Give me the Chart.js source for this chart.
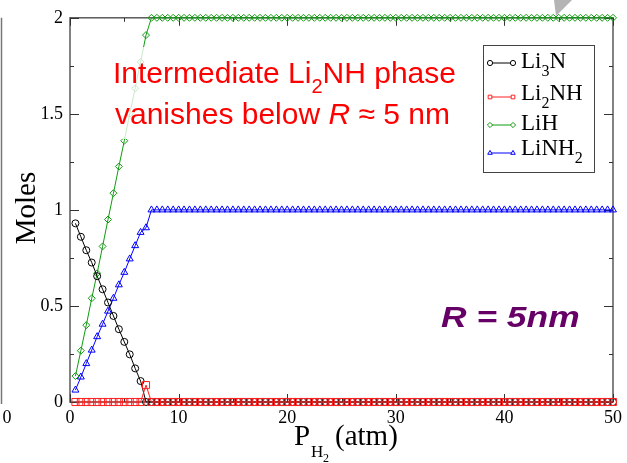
<!DOCTYPE html>
<html>
<head>
<meta charset="utf-8">
<script src="https://cdn.jsdelivr.net/npm/chart.js@4"></script>
<style>
  html, body { margin: 0; padding: 0; background: #fff; }
  #wrap { width: 627px; height: 463px; position: relative; }
</style>
</head>
<body>
<div id="wrap"><canvas id="chart" width="627" height="463"></canvas></div>
<script>
// pressure (atm)
const pressure = [
  0.5, 1, 1.5, 2, 2.5, 3, 3.5, 4, 4.5, 5,
  5.5, 6, 6.5, 7, 7.5, 8, 8.5, 9, 9.5, 10,
  10.5, 11, 11.5, 12, 12.5, 13, 13.5, 14, 14.5, 15,
  15.5, 16, 16.5, 17, 17.5, 18, 18.5, 19, 19.5, 20,
  20.5, 21, 21.5, 22, 22.5, 23, 23.5, 24, 24.5, 25,
  25.5, 26, 26.5, 27, 27.5, 28, 28.5, 29, 29.5, 30,
  30.5, 31, 31.5, 32, 32.5, 33, 33.5, 34, 34.5, 35,
  35.5, 36, 36.5, 37, 37.5, 38, 38.5, 39, 39.5, 40,
  40.5, 41, 41.5, 42, 42.5, 43, 43.5, 44, 44.5, 45,
  45.5, 46, 46.5, 47, 47.5, 48, 48.5, 49, 49.5, 50
];

const li3n = [
  0.93, 0.86, 0.79, 0.726, 0.655, 0.587, 0.518, 0.448, 0.379, 0.313,
  0.248, 0.175, 0.109, 0, 0, 0, 0, 0, 0, 0,
  0, 0, 0, 0, 0, 0, 0, 0, 0, 0,
  0, 0, 0, 0, 0, 0, 0, 0, 0, 0,
  0, 0, 0, 0, 0, 0, 0, 0, 0, 0,
  0, 0, 0, 0, 0, 0, 0, 0, 0, 0,
  0, 0, 0, 0, 0, 0, 0, 0, 0, 0,
  0, 0, 0, 0, 0, 0, 0, 0, 0, 0,
  0, 0, 0, 0, 0, 0, 0, 0, 0, 0,
  0, 0, 0, 0, 0, 0, 0, 0, 0, 0
];

const li2nh = [
  0, 0, 0, 0, 0, 0, 0, 0, 0, 0,
  0, 0, 0, 0.088, 0, 0, 0, 0, 0, 0,
  0, 0, 0, 0, 0, 0, 0, 0, 0, 0,
  0, 0, 0, 0, 0, 0, 0, 0, 0, 0,
  0, 0, 0, 0, 0, 0, 0, 0, 0, 0,
  0, 0, 0, 0, 0, 0, 0, 0, 0, 0,
  0, 0, 0, 0, 0, 0, 0, 0, 0, 0,
  0, 0, 0, 0, 0, 0, 0, 0, 0, 0,
  0, 0, 0, 0, 0, 0, 0, 0, 0, 0,
  0, 0, 0, 0, 0, 0, 0, 0, 0, 0
];

const lih = [
  0.135, 0.267, 0.40, 0.54, 0.67, 0.81, 0.95, 1.087, 1.226, 1.36,
  1.50, 1.633, 1.77, 1.91, 2, 2, 2, 2, 2, 2,
  2, 2, 2, 2, 2, 2, 2, 2, 2, 2,
  2, 2, 2, 2, 2, 2, 2, 2, 2, 2,
  2, 2, 2, 2, 2, 2, 2, 2, 2, 2,
  2, 2, 2, 2, 2, 2, 2, 2, 2, 2,
  2, 2, 2, 2, 2, 2, 2, 2, 2, 2,
  2, 2, 2, 2, 2, 2, 2, 2, 2, 2,
  2, 2, 2, 2, 2, 2, 2, 2, 2, 2,
  2, 2, 2, 2, 2, 2, 2, 2, 2, 2
];

const linh2 = [
  0.062, 0.13, 0.2, 0.27, 0.34, 0.405, 0.473, 0.54, 0.61, 0.675,
  0.745, 0.814, 0.883, 0.907, 1, 1, 1, 1, 1, 1,
  1, 1, 1, 1, 1, 1, 1, 1, 1, 1,
  1, 1, 1, 1, 1, 1, 1, 1, 1, 1,
  1, 1, 1, 1, 1, 1, 1, 1, 1, 1,
  1, 1, 1, 1, 1, 1, 1, 1, 1, 1,
  1, 1, 1, 1, 1, 1, 1, 1, 1, 1,
  1, 1, 1, 1, 1, 1, 1, 1, 1, 1,
  1, 1, 1, 1, 1, 1, 1, 1, 1, 1,
  1, 1, 1, 1, 1, 1, 1, 1, 1, 1
];

const xTicks = [0, 10, 20, 30, 40, 50];
const xMinor = [5, 15, 25, 35, 45];
const yTicks = [0, 0.5, 1, 1.5, 2];
const yMinor = [0.25, 0.75, 1.25, 1.75];

const SERIF = '"Liberation Serif", "DejaVu Serif", serif';
const SANS = '"Liberation Sans", Arial, sans-serif';

const series = [
  { label: [["Li", 0], ["3", 1], ["N", 0]], data: li3n, color: "#000000", point: "circle", r: 3.5, order: 2 },
  { label: [["Li", 0], ["2", 1], ["NH", 0]], data: li2nh, color: "#ff2020", point: "rect", r: 5, order: 1 },
  { label: [["LiH", 0]], data: lih, color: "#109a10", point: "rectRot", r: 3.5, order: 3 },
  { label: [["LiNH", 0], ["2", 1]], data: linh2, color: "#0000ff", point: "triangle", r: 4, order: 4 }
];

Chart.defaults.font.family = SERIF;

// draw text made of [text, isSub] pieces
function richText(ctx, parts, x, y, size, font) {
  let cx = x;
  parts.forEach(([t, sub]) => {
    const s = sub ? Math.round(size * 0.68) : size;
    ctx.font = s + "px " + font;
    ctx.fillText(t, cx, y + (sub ? size * 0.33 : 0));
    cx += ctx.measureText(t).width;
  });
  return cx;
}

const decor = {
  id: "decor",
  beforeDatasetsDraw(chart) {
    const ctx = chart.ctx;
    const a = chart.chartArea;
    const xs = chart.scales.x, ys = chart.scales.y;
    ctx.save();
    ctx.strokeStyle = "#5a5a5a";
    ctx.lineWidth = 1.5;
    ctx.strokeRect(a.left, a.top, a.right - a.left, a.bottom - a.top);
    ctx.lineWidth = 1;
    ctx.strokeStyle = "#333";
    ctx.beginPath();
    xTicks.concat(xMinor).forEach(v => {
      const len = xTicks.includes(v) ? 8 : 4;
      const px = Math.round(xs.getPixelForValue(v)) + 0.5;
      ctx.moveTo(px, a.bottom); ctx.lineTo(px, a.bottom - len);
      ctx.moveTo(px, a.top); ctx.lineTo(px, a.top + len);
    });
    yTicks.concat(yMinor).forEach(v => {
      const len = yTicks.includes(v) ? 9 : 4;
      const py = Math.round(ys.getPixelForValue(v)) + 0.5;
      ctx.moveTo(a.left, py); ctx.lineTo(a.left + len, py);
      ctx.moveTo(a.right, py); ctx.lineTo(a.right - len, py);
    });
    ctx.stroke();

    // edge of the neighbouring panel
    ctx.strokeStyle = "#777";
    ctx.lineWidth = 1.5;
    ctx.beginPath();
    ctx.moveTo(1.5, a.top); ctx.lineTo(1.5, a.bottom + 2);
    ctx.stroke();
    ctx.fillStyle = "#000";
    ctx.font = "18px " + SERIF;
    ctx.textAlign = "center";
    ctx.textBaseline = "top";
    ctx.fillText("0", 7, a.bottom + 7);
    ctx.fillStyle = "#b4b4b4";
    ctx.beginPath();
    ctx.moveTo(554, 0); ctx.lineTo(572, 0); ctx.lineTo(556, 16);
    ctx.closePath(); ctx.fill();

    // axis titles
    ctx.fillStyle = "#000";
    ctx.textAlign = "left";
    ctx.textBaseline = "alphabetic";
    ctx.font = "29px " + SERIF;
    ctx.fillText("P", 294, 445);
    ctx.font = "17px " + SERIF;
    ctx.fillText("H", 311, 457);
    ctx.font = "12px " + SERIF;
    ctx.fillText("2", 323, 462);
    ctx.font = "29px " + SERIF;
    ctx.fillText("(atm)", 335, 445);

    ctx.save();
    ctx.translate(35, 208);
    ctx.rotate(-Math.PI / 2);
    ctx.textAlign = "center";
    ctx.font = "29px " + SERIF;
    ctx.fillText("Moles", 0, 0);
    ctx.restore();
    ctx.restore();
  },
  afterDatasetsDraw(chart) {
    const ctx = chart.ctx;
    ctx.save();
    // note box
    ctx.fillStyle = "rgba(255,255,255,0.78)";
    ctx.fillRect(103, 47, 366, 92);
    ctx.fillStyle = "#ff0000";
    ctx.textBaseline = "alphabetic";
    ctx.textAlign = "left";
    const big = 30;
    ctx.font = big + "px " + SANS;
    let x = 113;
    ctx.fillText("Intermediate Li", x, 83);
    x += ctx.measureText("Intermediate Li").width;
    ctx.font = "20px " + SANS;
    ctx.fillText("2", x, 93);
    x += ctx.measureText("2").width;
    ctx.font = big + "px " + SANS;
    ctx.fillText("NH phase", x, 83);

    ctx.font = big + "px " + SANS;
    x = 115;
    ctx.fillText("vanishes below ", x, 124);
    x += ctx.measureText("vanishes below ").width;
    ctx.font = "italic " + big + "px " + SANS;
    ctx.fillText("R", x, 124);
    x += ctx.measureText("R").width;
    ctx.font = big + "px " + SANS;
    ctx.fillText(" \u2248 5 nm", x, 124);

    // R = 5nm
    ctx.save();
    ctx.translate(441, 327);
    ctx.scale(1.22, 1);
    ctx.fillStyle = "#660066";
    ctx.font = "italic bold 29px " + SANS;
    ctx.fillText("R = 5nm", 0, 0);
    ctx.restore();

    // legend
    ctx.fillStyle = "#fff";
    ctx.fillRect(483, 45, 111, 127);
    ctx.strokeStyle = "#444";
    ctx.lineWidth = 1;
    ctx.strokeRect(483.5, 45.5, 111, 127);
    const rows = [63, 97, 125, 153];
    const base = [68, 100, 130, 155];
    series.forEach((s, i) => {
      ctx.strokeStyle = s.color;
      ctx.lineWidth = 1;
      ctx.beginPath();
      ctx.moveTo(490, rows[i]); ctx.lineTo(513, rows[i]);
      ctx.stroke();
      [490, 513].forEach(px => {
        ctx.fillStyle = "#fff";
        Chart.helpers.drawPoint(ctx, {
          pointStyle: s.point, radius: 2.6, rotation: 0, borderWidth: 1
        }, px, rows[i]);
      });
      ctx.fillStyle = "#000";
      richText(ctx, s.label, 521, base[i], 23, SERIF);
    });
    ctx.restore();
  }
};

new Chart(document.getElementById("chart"), {
  type: "line",
  data: {
    datasets: series.map(s => ({
      label: s.label.map(p => p[0]).join(""),
      data: pressure.map((p, i) => ({ x: p, y: s.data[i] })),
      order: s.order,
      clip: false,
      borderColor: s.color,
      backgroundColor: "rgba(0,0,0,0)",
      borderWidth: 1,
      pointStyle: s.point,
      pointRadius: s.r,
      pointBorderColor: s.color,
      pointBackgroundColor: "rgba(0,0,0,0)",
      pointBorderWidth: 1,
      tension: 0
    }))
  },
  options: {
    responsive: false,
    animation: false,
    layout: { padding: { top: 17, right: 8, left: 0, bottom: 0 } },
    plugins: { legend: { display: false }, tooltip: { enabled: false } },
    scales: {
      x: {
        type: "linear", min: 0, max: 50,
        afterFit: sc => { sc.height = 61; },
        afterBuildTicks: sc => { sc.ticks = xTicks.map(v => ({ value: v })); },
        grid: { display: false, drawTicks: false },
        border: { display: false },
        ticks: { padding: 5, color: "#000", font: { family: SERIF, size: 18 }, maxRotation: 0,
                 callback: v => String(v) }
      },
      y: {
        min: 0, max: 2,
        afterFit: sc => { sc.width = 70; },
        afterBuildTicks: sc => { sc.ticks = yTicks.map(v => ({ value: v })); },
        grid: { display: false, drawTicks: false },
        border: { display: false },
        ticks: { padding: 7, color: "#000", font: { family: SERIF, size: 18 },
                 callback: v => String(v) }
      }
    }
  },
  plugins: [decor]
});
</script>
</body>
</html>
